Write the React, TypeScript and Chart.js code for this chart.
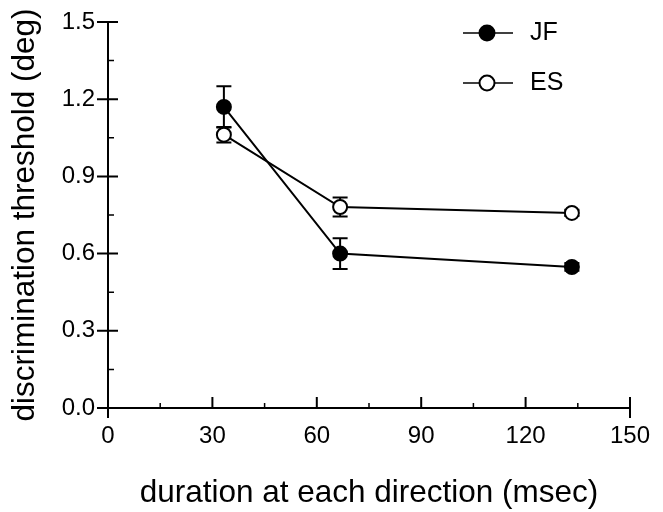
import React, { useEffect, useRef } from "react";
import { Chart, registerables } from "chart.js";

Chart.register(...registerables);

const durations = [33.3, 66.7, 133.3];
const jfValues = [1.17, 0.6, 0.548];
const jfErrors = [0.08, 0.06, 0.015];
const esValues = [1.062, 0.781, 0.758];
const esErrors = [0.03, 0.037, 0.012];
const seriesNames = ["JF", "ES"];
const xTicks = [0, 30, 60, 90, 120, 150];
const xMinorTicks = [15, 45, 75, 105, 135];
const yTicks = [0, 0.3, 0.6, 0.9, 1.2, 1.5];
const yMinorTicks = [0.15, 0.45, 0.75, 1.05, 1.35];
const xTitle = "duration at each direction (msec)";
const yTitle = "discrimination threshold (deg)";

const FONT = "'Liberation Sans', Arial, Helvetica, sans-serif";

const errorBarsPlugin = {
  id: "errorBars",
  beforeDatasetsDraw(chart: any) {
    const ctx = chart.ctx;
    const xs = chart.scales.x;
    const ys = chart.scales.y;
    const sets = [
      { v: jfValues, e: jfErrors },
      { v: esValues, e: esErrors },
    ];
    ctx.save();
    ctx.strokeStyle = "#000";
    ctx.lineWidth = 2;
    sets.forEach((s) => {
      durations.forEach((d, i) => {
        const px = xs.getPixelForValue(d);
        const top = ys.getPixelForValue(s.v[i] + s.e[i]);
        const bot = ys.getPixelForValue(s.v[i] - s.e[i]);
        ctx.beginPath();
        ctx.moveTo(px, top);
        ctx.lineTo(px, bot);
        ctx.moveTo(px - 7.5, top);
        ctx.lineTo(px + 7.5, top);
        ctx.moveTo(px - 7.5, bot);
        ctx.lineTo(px + 7.5, bot);
        ctx.stroke();
      });
    });
    ctx.restore();
  },
};

const axesPlugin = {
  id: "axesTicks",
  afterDraw(chart: any) {
    const ctx = chart.ctx;
    const xs = chart.scales.x;
    const ys = chart.scales.y;
    const ca = chart.chartArea;
    ctx.save();
    ctx.strokeStyle = "#000";
    ctx.lineWidth = 2;
    ctx.beginPath();
    ctx.moveTo(ca.left, ca.top);
    ctx.lineTo(ca.left, ca.bottom + 10);
    ctx.moveTo(ca.left - 11, ca.bottom);
    ctx.lineTo(ca.right, ca.bottom);
    xTicks.forEach((t, i) => {
      const px = xs.getPixelForValue(t);
      ctx.moveTo(px, ca.bottom - 11);
      ctx.lineTo(px, i === xTicks.length - 1 ? ca.bottom + 10 : ca.bottom);
    });
    ctx.stroke();
    ctx.lineWidth = 1.5;
    ctx.beginPath();
    xMinorTicks.forEach((t) => {
      const px = xs.getPixelForValue(t);
      ctx.moveTo(px, ca.bottom - 5);
      ctx.lineTo(px, ca.bottom);
    });
    yMinorTicks.forEach((t) => {
      const py = ys.getPixelForValue(t);
      ctx.moveTo(ca.left, py);
      ctx.lineTo(ca.left + 6, py);
    });
    ctx.stroke();
    ctx.lineWidth = 2;
    ctx.beginPath();
    yTicks.forEach((t) => {
      const py = ys.getPixelForValue(t);
      ctx.moveTo(ca.left - 11, py);
      ctx.lineTo(ca.left + 10, py);
    });
    ctx.stroke();

    const lx = ca.right - 167;
    const rows = [
      { name: seriesNames[0], fill: "#000", y: ca.top + 11 },
      { name: seriesNames[1], fill: "#fff", y: ca.top + 61 },
    ];
    rows.forEach((r) => {
      ctx.lineWidth = 1.5;
      ctx.strokeStyle = "#000";
      ctx.beginPath();
      ctx.moveTo(lx, r.y);
      ctx.lineTo(lx + 50, r.y);
      ctx.stroke();
      ctx.beginPath();
      ctx.arc(lx + 24, r.y, 7.5, 0, Math.PI * 2);
      ctx.fillStyle = r.fill;
      ctx.fill();
      ctx.lineWidth = 2;
      ctx.stroke();
      ctx.fillStyle = "#000";
      ctx.font = `25px ${FONT}`;
      ctx.textAlign = "left";
      ctx.textBaseline = "middle";
      ctx.fillText(r.name, lx + 67, r.y);
    });
    ctx.restore();
  },
};

export default function App() {
  const ref = useRef<HTMLCanvasElement | null>(null);
  useEffect(() => {
    if (!ref.current) return;
    const chart = new Chart(ref.current, {
      type: "line",
      data: {
        datasets: [
          {
            label: seriesNames[0],
            data: durations.map((d, i) => ({ x: d, y: jfValues[i] })),
            borderColor: "#000",
            borderWidth: 2,
            pointRadius: 7,
            pointBorderWidth: 2,
            pointBackgroundColor: "#000",
            pointBorderColor: "#000",
            fill: false,
            tension: 0,
          },
          {
            label: seriesNames[1],
            data: durations.map((d, i) => ({ x: d, y: esValues[i] })),
            borderColor: "#000",
            borderWidth: 2,
            pointRadius: 7,
            pointBorderWidth: 2,
            pointBackgroundColor: "#fff",
            pointBorderColor: "#000",
            fill: false,
            tension: 0,
          },
        ],
      },
      options: {
        responsive: false,
        animation: false,
        layout: { padding: { top: 22, right: 33, left: 0, bottom: 0 } },
        plugins: {
          legend: { display: false },
          tooltip: { enabled: false },
        },
        scales: {
          x: {
            type: "linear",
            min: 0,
            max: 150,
            grid: { display: false, drawTicks: false },
            border: { display: false },
            ticks: {
              padding: 14,
              color: "#000",
              font: { family: FONT, size: 24 },
              maxRotation: 0,
            },
            afterBuildTicks: (s: any) => {
              s.ticks = xTicks.map((v) => ({ value: v }));
            },
            title: {
              display: true,
              text: xTitle,
              color: "#000",
              font: { family: FONT, size: 31.5 },
              padding: { top: 0, bottom: 0 },
            },
            afterFit: (s: any) => {
              s.height = 104;
              s.paddingLeft = 0;
              s.paddingRight = 0;
            },
          } as any,
          y: {
            type: "linear",
            min: 0,
            max: 1.5,
            grid: { display: false, drawTicks: false },
            border: { display: false },
            ticks: {
              padding: 13,
              color: "#000",
              font: { family: FONT, size: 24 },
              callback: (v: any) => Number(v).toFixed(1),
            },
            afterBuildTicks: (s: any) => {
              s.ticks = yTicks.map((v) => ({ value: v }));
            },
            title: {
              display: true,
              text: yTitle,
              color: "#000",
              font: { family: FONT, size: 31.5 },
              padding: { top: 6, bottom: 0 },
            },
            afterFit: (s: any) => {
              s.width = 108;
              s.paddingTop = 0;
              s.paddingBottom = 0;
            },
          } as any,
        },
      },
      plugins: [errorBarsPlugin, axesPlugin],
    });
    return () => chart.destroy();
  }, []);
  return (
    <canvas
      ref={ref}
      width={663}
      height={512}
      style={{ position: "absolute", left: 0, top: 0, display: "block" }}
    />
  );
}
